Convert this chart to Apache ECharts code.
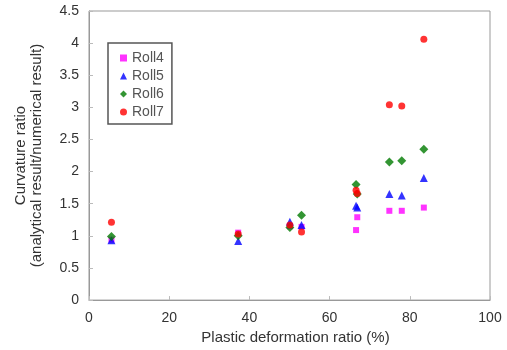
<!DOCTYPE html>
<html>
  <head>
    <meta charset="utf-8" />
    <title></title>
    <script src="https://cdn.jsdelivr.net/npm/echarts@6/dist/echarts.min.js"></script>
  </head>
  <body style="margin:0">
    <div id="chart" style="width:507px;height:350px"></div>
    <script>
      // x positions (plastic deformation ratio, %)
      var xRoll = [5.6, 37.2, 50.1, 53.0, 66.6, 66.9, 74.9, 78.0, 83.5];
      var roll4 = [0.94, 1.05, 1.15, 1.14, 1.09, 1.29, 1.39, 1.39, 1.44];
      var roll5 = [0.93, 0.92, 1.22, 1.17, 1.47, 1.44, 1.65, 1.63, 1.90];
      var roll6 = [0.99, 1.00, 1.13, 1.32, 1.80, 1.65, 2.15, 2.17, 2.35];
      var roll7 = [1.21, 1.03, 1.17, 1.06, 1.71, 1.66, 3.04, 3.02, 4.06];
      var xTicks = [0, 20, 40, 60, 80, 100];
      var yTicks = [0, 0.5, 1, 1.5, 2, 2.5, 3, 3.5, 4, 4.5];

      function pairs(ys) {
        var out = [];
        for (var i = 0; i < ys.length; i++) {
          out.push([xRoll[i], ys[i]]);
        }
        return out;
      }

      var font = 'Liberation Sans, Arial, sans-serif';
      var chart = echarts.init(document.getElementById('chart'));
      var option = {
        animation: false,
        backgroundColor: '#fff',
        textStyle: { fontFamily: font },
        grid: {
          left: 89, right: 17, top: 11, bottom: 46,
          show: true, borderColor: '#999', borderWidth: 1
        },
        legend: {
          orient: 'vertical',
          left: 108, top: 43,
          itemWidth: 7, itemHeight: 7, itemGap: 4,
          padding: [8, 8, 5, 12],
          borderColor: '#555', borderWidth: 1.5,
          backgroundColor: '#fff',
          textStyle: { fontFamily: font, fontSize: 14, lineHeight: 14, color: '#555' },
          data: ['Roll4', 'Roll5', 'Roll6', 'Roll7']
        },
        xAxis: {
          type: 'value', min: xTicks[0], max: xTicks[xTicks.length - 1], interval: 20,
          name: 'Plastic deformation ratio (%)',
          nameLocation: 'middle', nameGap: 25,
          nameTextStyle: { fontFamily: font, fontSize: 15, color: '#333', padding: [0, 0, 0, 12] },
          axisLine: { show: true, lineStyle: { color: '#999' } },
          axisTick: { show: true, inside: true, length: 4, lineStyle: { color: '#bbb' } },
          axisLabel: { fontFamily: font, fontSize: 14, color: '#333', margin: 11 },
          splitLine: { show: false }
        },
        yAxis: {
          type: 'value', min: yTicks[0], max: yTicks[yTicks.length - 1], interval: 0.5,
          name: 'Curvature ratio\n(analytical result/numerical result)',
          nameLocation: 'middle', nameGap: 44, nameRotate: 90,
          nameTextStyle: { fontFamily: font, fontSize: 15, color: '#333', lineHeight: 16 },
          axisLine: { show: true, lineStyle: { color: '#999' } },
          axisTick: { show: true, inside: true, length: 4, lineStyle: { color: '#bbb' } },
          axisLabel: { fontFamily: font, fontSize: 14, color: '#333', margin: 10 },
          splitLine: { show: false }
        },
        series: [
          { name: 'Roll4', type: 'scatter', symbol: 'rect', symbolSize: 6,
            itemStyle: { color: '#ff00ff' }, data: pairs(roll4) },
          { name: 'Roll5', type: 'scatter', symbol: 'triangle', symbolSize: 8,
            itemStyle: { color: '#0000ff' }, data: pairs(roll5) },
          { name: 'Roll6', type: 'scatter', symbol: 'diamond', symbolSize: 9,
            itemStyle: { color: '#007a00' }, data: pairs(roll6) },
          { name: 'Roll7', type: 'scatter', symbol: 'circle', symbolSize: 7,
            itemStyle: { color: '#ff0000' }, data: pairs(roll7) }
        ]
      };
      chart.setOption(option);
    </script>
  </body>
</html>
